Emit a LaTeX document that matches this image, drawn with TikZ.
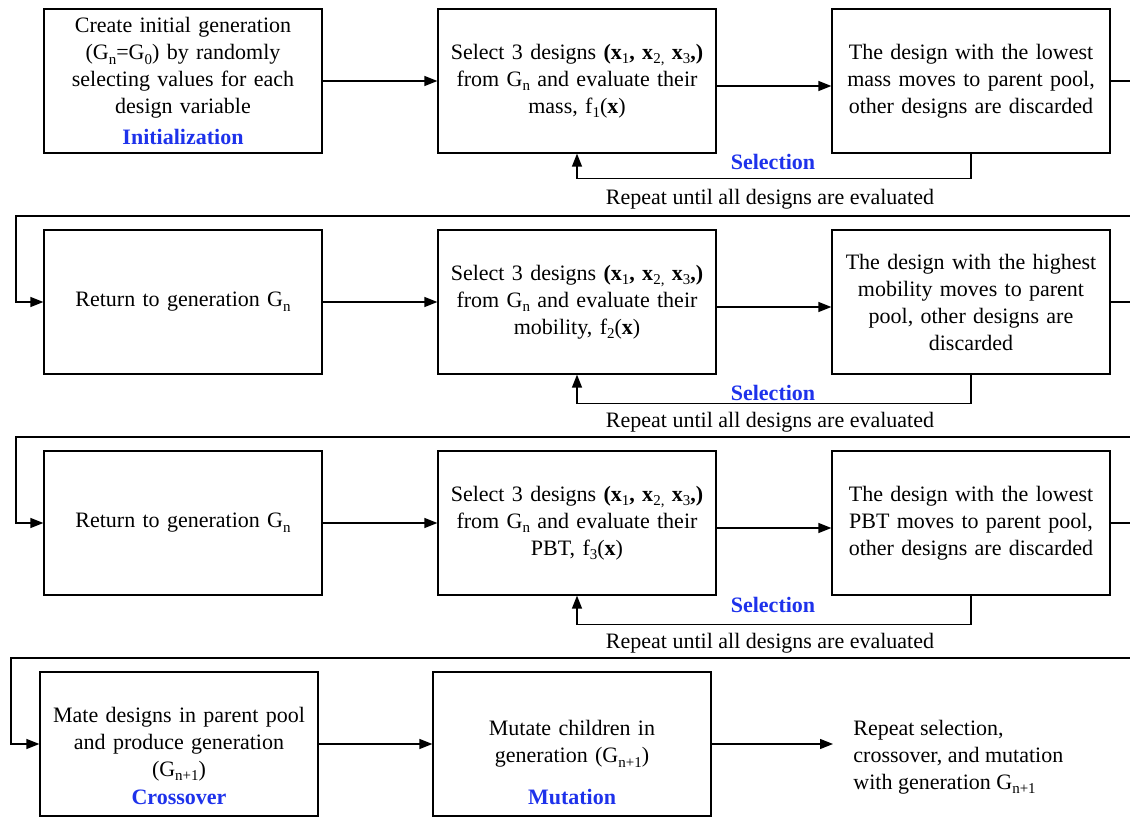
\documentclass[tikz,border=0pt]{standalone}
\usepackage{fontspec}
\setmainfont{Liberation Serif}
\usetikzlibrary{arrows.meta}
\definecolor{labelblue}{RGB}{30,50,235}
% lowered, upright subscripts as set in the flowchart text
\newcommand\sbs[1]{\raisebox{-0.45ex}{\fontsize{7.5}{8}\selectfont\mdseries #1}}
\newcommand\bx{\textbf{x}}
\newcommand\trio{\textbf{(x\sbs{1}, x\sbs{2,} x\sbs{3},)}}

\begin{document}
\begin{tikzpicture}[x=0.5pt,y=-0.5pt,
  font=\fontsize{11}{13.5}\selectfont,
  box/.style={draw, line width=0.6pt, minimum width=139pt, minimum height=72pt,
              inner sep=0pt, align=center, text width=136pt},
  arr/.style={line width=0.6pt, -{Triangle[length=6.5pt,width=5pt]}},
  stage/.style={text=labelblue, font=\fontsize{11}{13.5}\selectfont\bfseries, inner sep=0pt},
  note/.style={inner sep=0pt}]
\useasboundingbox (0,0) rectangle (1130,817);
\clip (0,0) rectangle (1130,817);

% ---------- row 1: initialization and selection by mass
\node[box] (A1) at (183,81) {Create initial generation\\
  (G\sbs{n}=G\sbs{0}) by randomly\\ selecting values for each\\ design variable\\[2pt]
  {\color{labelblue}\bfseries Initialization}};
\node[box] (B1) at (577,81) {Select 3 designs \trio\\ from G\sbs{n} and evaluate their\\ mass, f\sbs{1}(\bx)};
\node[box] (C1) at (971,81) {The design with the lowest\\ mass moves to parent pool,\\ other designs are discarded};
\node[stage] (S1) at (773,162) {Selection};
\node[note] (R1) at (770,199) {Repeat until all designs are evaluated};

% ---------- row 2: selection by mobility
\node[box] (A2) at (183,302) {Return to generation G\sbs{n}};
\node[box] (B2) at (577,302) {Select 3 designs \trio\\ from G\sbs{n} and evaluate their\\ mobility, f\sbs{2}(\bx)};
\node[box] (C2) at (971,302) {The design with the highest\\ mobility moves to parent\\ pool, other designs are\\ discarded};
\node[stage] (S2) at (773,393) {Selection};
\node[note] (R2) at (770,422) {Repeat until all designs are evaluated};

% ---------- row 3: selection by PBT
\node[box] (A3) at (183,523) {Return to generation G\sbs{n}};
\node[box] (B3) at (577,523) {Select 3 designs \trio\\ from G\sbs{n} and evaluate their\\ PBT, f\sbs{3}(\bx)};
\node[box] (C3) at (971,523) {The design with the lowest\\ PBT moves to parent pool,\\ other designs are discarded};
\node[stage] (S3) at (773,605) {Selection};
\node[note] (R3) at (770,643) {Repeat until all designs are evaluated};

% ---------- row 4: crossover and mutation
\node[box] (D) at (179,744) {Mate designs in parent pool\\ and produce generation\\ (G\sbs{n+1})};
\node[stage] (SD) at (179,797) {Crossover};
\node[box] (E) at (572,744) {Mutate children in\\ generation (G\sbs{n+1})};
\node[stage] (SE) at (572,797) {Mutation};
\node[note, anchor=west, align=left, inner xsep=10pt] (F) at (833,757)
  {Repeat selection,\\ crossover, and mutation\\ with generation G\sbs{n+1}};

% ---------- loop corners
\coordinate (k1a) at (1140,81);  \coordinate (k1b) at (16,216);
\coordinate (k2a) at (1140,302); \coordinate (k2b) at (16,437);
\coordinate (k3a) at (1140,523); \coordinate (k3b) at (11,658);

% ---------- forward arrows
\draw[arr] (A1) -- (B1);
\draw[arr] ([yshift=-2.5pt]B1.east) -- ([yshift=-2.5pt]C1.west);
\draw[arr] (A2) -- (B2);
\draw[arr] ([yshift=-2.5pt]B2.east) -- ([yshift=-2.5pt]C2.west);
\draw[arr] (A3) -- (B3);
\draw[arr] ([yshift=-2.5pt]B3.east) -- ([yshift=-2.5pt]C3.west);
\draw[arr] (D) -- (E);
\draw[arr] (E.east) -- (E.east -| F.west);

% ---------- repeat-until feedback loops
\draw[arr] (C1.south) -- ++(0,25) -| (B1.south);
\draw[arr] (C2.south) -- ++(0,29) -| (B2.south);
\draw[arr] (C3.south) -- ++(0,29) -| (B3.south);

% ---------- row-to-row connectors
\draw[arr] (C1.east) -- (k1a) |- (k1b) |- (A2.west);
\draw[arr] (C2.east) -- (k2a) |- (k2b) |- (A3.west);
\draw[arr] (C3.east) -- (k3a) |- (k3b) |- (D.west);
\end{tikzpicture}
\end{document}
